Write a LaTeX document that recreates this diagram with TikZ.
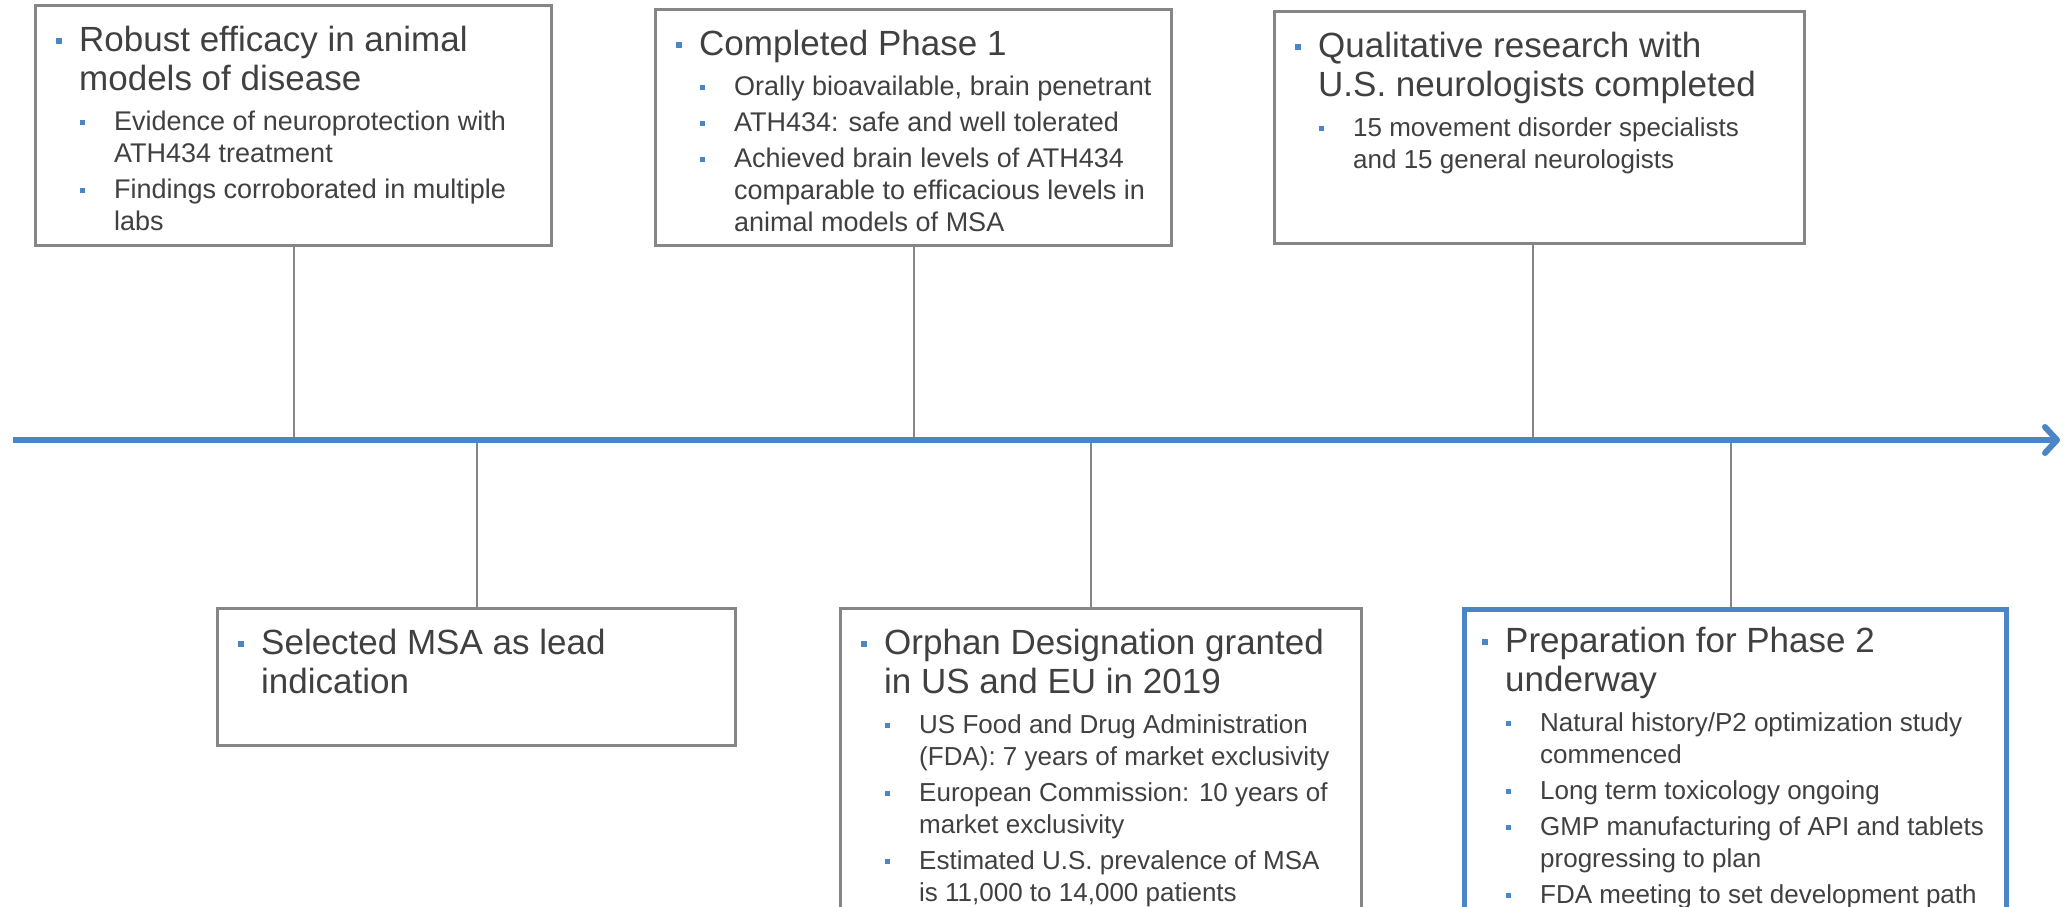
\documentclass[tikz,border=0pt]{standalone}
\usepackage{fontspec}
\setmainfont{Liberation Sans}
\usetikzlibrary{arrows.meta}

\definecolor{tlblue}{RGB}{74,134,198}
\definecolor{boxgray}{RGB}{134,134,134}
\definecolor{txtgray}{RGB}{64,64,64}

% square bullets, main line and sub line
\newcommand{\subsz}{27}
\newcommand{\sqbul}[1]{\textcolor{tlblue}{\rule{#1}{#1}}}
\newcommand{\mainpt}[1]{\par\leftskip=0pt\spaceskip=0pt\xspaceskip=0pt\fontsize{35}{39}\selectfont\noindent\llap{\raisebox{7pt}{\sqbul{6pt}}\hspace{17pt}}\rule{0pt}{33pt}#1\par\vspace{4pt}}
\newcommand{\subpt}[1]{\par\vspace{4pt}\spaceskip=0pt\xspaceskip=0pt\fontsize{\subsz}{32}\selectfont\leftskip=35pt\noindent\llap{\raisebox{5.5pt}{\sqbul{5pt}}\hspace{29.5pt}}#1\par}

\tikzset{
  gbox/.style={draw=boxgray, line width=3pt, inner sep=0pt, anchor=north west},
  bbox/.style={draw=tlblue, line width=4.5pt, inner sep=0pt, anchor=north west},
  txt/.style={inner sep=0pt, anchor=north west, text=txtgray},
  conn/.style={draw=boxgray, line width=2pt},
  tline/.style={draw=tlblue, line width=6pt, -{Straight Barb[length=12pt,width=26pt,round]}}
}

\begin{document}
\begin{tikzpicture}[x=1pt,y=-1pt]
  \useasboundingbox (0,0) rectangle (2065,906);

  % timeline and milestones
  \coordinate (t0) at (13,440);
  \coordinate (tend) at (2060,440);
  \coordinate (m3) at (1533,440);
  \coordinate (m5) at (1091,440);
  \coordinate (m6) at (1731,440);

  % upper boxes
  \node[gbox, minimum width=516pt, minimum height=240pt] (b1) at (34,4) {};
  \node[gbox, minimum width=516pt, minimum height=236pt] (b2) at (654,8) {};
  \node[gbox, minimum width=530pt, minimum height=232pt] (b3) at (1273,10) {};

  % lower boxes
  \node[gbox, minimum width=518pt, minimum height=137pt] (b4) at (216,607) {};
  \node[gbox, minimum width=521pt, minimum height=330pt] (b5) at (839,607) {};
  \node[bbox, minimum width=542pt, minimum height=330pt] (b6) at (1462,607) {};

  % texts
  \node[txt, text width=470pt] (b1t) at ([shift={(45,8)}]b1.north west)
    {\mainpt{Robust efficacy in animal\\models of disease}%
     \subpt{Evidence of neuroprotection with\\ATH434 treatment}%
     \subpt{Findings corroborated in multiple\\labs}};
  \node[txt, text width=470pt] (b2t) at ([shift={(45,8)}]b2.north west)
    {\mainpt{Completed Phase 1}%
     \subpt{Orally bioavailable, brain penetrant}%
     \subpt{ATH434: safe and well tolerated}%
     \subpt{Achieved brain levels of ATH434\\comparable to efficacious levels in\\animal models of MSA}};
  \node[txt, text width=480pt] (b3t) at ([shift={(45,8)}]b3.north west)
    {\renewcommand{\subsz}{26}%
     \mainpt{Qualitative research with\\U.S. neurologists completed}%
     \subpt{15 movement disorder specialists\\and 15 general neurologists}};
  \node[txt, text width=472pt] (b4t) at ([shift={(45,8)}]b4.north west)
    {\mainpt{Selected MSA as lead\\indication}};
  \node[txt, text width=475pt] (b5t) at ([shift={(45,8)}]b5.north west)
    {\renewcommand{\subsz}{26}%
     \mainpt{Orphan Designation granted\\in US and EU in 2019}%
     \subpt{US Food and Drug Administration\\(FDA): 7 years of market exclusivity}%
     \subpt{European Commission: 10 years of\\market exclusivity}%
     \subpt{Estimated U.S. prevalence of MSA\\is 11,000 to 14,000 patients}};
  \node[txt, text width=494pt] (b6t) at ([shift={(43,6)}]b6.north west)
    {\renewcommand{\subsz}{26}%
     \mainpt{Preparation for Phase 2\\underway}%
     \subpt{Natural history/P2 optimization study\\commenced}%
     \subpt{Long term toxicology ongoing}%
     \subpt{GMP manufacturing of API and tablets\\progressing to plan}%
     \subpt{FDA meeting to set development path}};

  % connectors
  \draw[conn] (b1.south) -- (b1.south |- t0);
  \draw[conn] (b2.south) -- (b2.south |- t0);
  \draw[conn] (m3 |- b3.south) -- (m3);
  \draw[conn] (b4.north |- t0) -- (b4.north);
  \draw[conn] (m5) -- (m5 |- b5.north);
  \draw[conn] (m6) -- (m6 |- b6.north);

  \draw[tline] (t0) -- (tend);
\end{tikzpicture}
\end{document}
